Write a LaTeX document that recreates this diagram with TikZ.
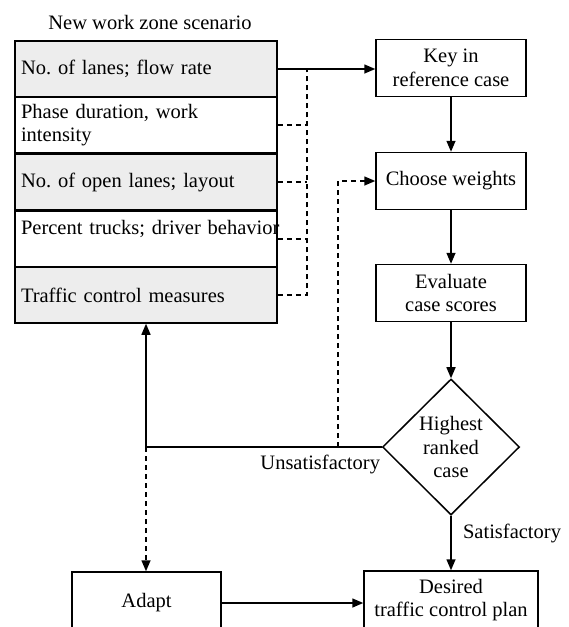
\documentclass[tikz,border=0pt]{standalone}
\usepackage{fontspec}
\setmainfont{Liberation Serif}
\usepackage{tikz}
\usetikzlibrary{arrows.meta, positioning, shapes.geometric, calc}
\frenchspacing
\tikzset{
  block/.style  ={rectangle, draw=black, line width=1.5pt, minimum width=150pt,
                  minimum height=57pt, align=center, inner sep=2pt},
  rowbox/.style ={rectangle, draw=black, line width=1.5pt, minimum width=262pt,
                  minimum height=56pt, text width=250pt, inner xsep=6pt,
                  align=left},
  tinted/.style ={fill=black!7},
  decide/.style ={diamond, draw=black, line width=1.5pt, minimum width=137pt,
                  minimum height=136pt, inner sep=0pt, align=center},
  wire/.style   ={line width=1.5pt},
  arrow/.style  ={-{Triangle[length=11pt, width=9pt]}, line width=1.5pt},
  dline/.style  ={line width=1.5pt, dash pattern=on 5pt off 4pt},
  darrow/.style ={-{Triangle[length=11pt, width=9pt]}, line width=1.5pt,
                  dash pattern=on 5pt off 4pt}
}

\begin{document}
\begin{tikzpicture}[
  x=1pt, y=-1pt,
  every node/.style={font=\fontsize{20.5}{23.5}\selectfont}
]
\useasboundingbox (0,0) rectangle (569,627);

% Scenario inputs (left)
\node (title) at (150,22) {New work zone scenario};
\node[rowbox, tinted] (lanes)  at (146,69)  {No. of lanes; flow rate};
\node[rowbox]         (phase)  at (146,125) {Phase duration, work\\intensity};
\node[rowbox, tinted] (open)   at (146,182) {No. of open lanes; layout};
\node[rowbox]         (trucks) at (146,239) {\mbox{Percent trucks; driver behavior}\\\mbox{}};
\node[rowbox, tinted] (ctrl)   at (146,295) {Traffic control measures};

% Procedure steps (right)
\node[block]  (key)     at (451,68)  {Key in\\reference case};
\node[block]  (weights) at (451,181) {Choose weights};
\node[block]  (score)   at (451,293) {Evaluate\\case scores};
\node[decide] (rank)    at (451,447) {Highest\\ranked\\case};
\node[block, minimum width=174pt, minimum height=58pt] (plan)  at (451,600)   {Desired\\traffic control plan};
\node[block, minimum width=149pt, minimum height=62pt] (adapt) at (146.5,603) {Adapt};

% Junction points
\coordinate (bus)  at (307,69);
\coordinate (turn) at (146,447);
\coordinate (tap)  at (338,447);

% Inputs into the reference case
\draw[arrow] (lanes.east) -- (lanes.east -| key.west);
\foreach \n in {phase, open, trucks}{
  \draw[dline] (\n.east) -- (\n.east -| bus);
}
\draw[dline] (ctrl.east) -- (ctrl.east -| bus) -- (bus);

% Main flow
\draw[arrow] (key) -- (weights);
\draw[arrow] (weights) -- (score);
\draw[arrow] (score) -- (rank);
\draw[arrow] (rank) -- node[right, pos=0.32, xshift=8pt]{Satisfactory} (plan);

% Feedback loop
\draw[wire] (rank.west) -- (turn)
     node[pos=0, anchor=north east, inner sep=1pt, yshift=-6pt]{Unsatisfactory};
\draw[arrow]  (turn) -- (ctrl.south);
\draw[darrow] (turn) -- (turn |- adapt.north);
\draw[darrow] (tap) |- (weights.west);
\draw[arrow]  (adapt.east) -- (adapt.east -| plan.west);
\end{tikzpicture}
\end{document}
